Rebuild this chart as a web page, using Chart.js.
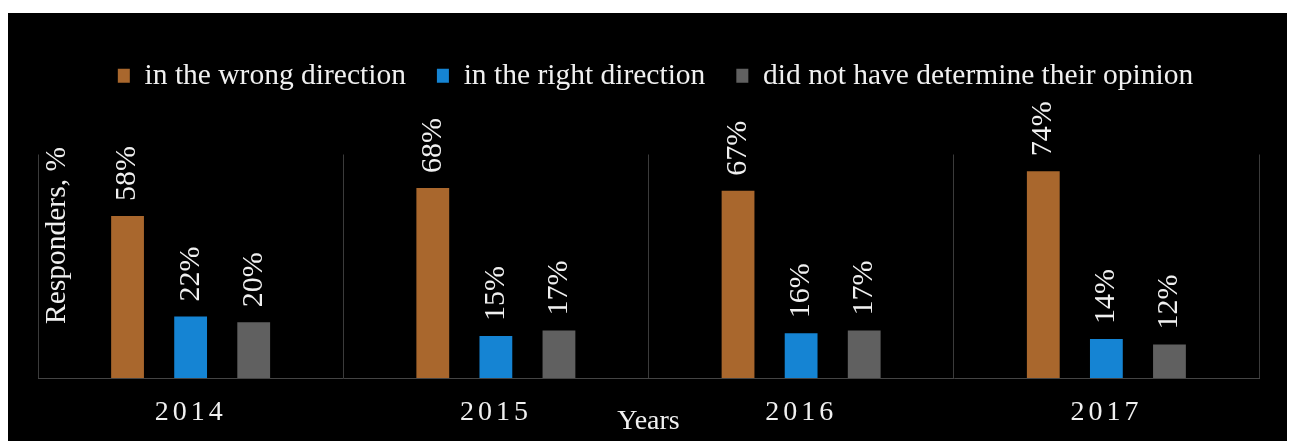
<!DOCTYPE html>
<html>
<head>
<meta charset="utf-8">
<title>Responders by year</title>
<script src="https://cdn.jsdelivr.net/npm/chart.js@4/dist/chart.umd.min.js"></script>
<style>
  html, body { margin: 0; padding: 0; background: #ffffff; }
  #panel { position: absolute; left: 8px; top: 13px; width: 1279px; height: 428px; background: #000000; }
</style>
</head>
<body>
<div id="panel"><canvas id="chart"></canvas></div>
<script>
// Survey answers per year, in percent of responders
const years = ['2014', '2015', '2016', '2017'];
const wrongDirection = [58, 68, 67, 74];
const rightDirection = [22, 15, 16, 14];
const undecided = [20, 17, 17, 12];
const seriesNames = ['in the wrong direction', 'in the right direction', 'did not have determine their opinion'];
const seriesColors = ['#a9672d', '#1584d3', '#606060'];
const yAxisTitle = 'Responders, %';
const xAxisTitle = 'Years';

const serif = "'Liberation Serif', 'Times New Roman', serif";
const textColor = '#f0f0f0';
Chart.defaults.font.family = serif;
Chart.defaults.color = textColor;

// Adds empty space between the legend row and the plot area,
// and nudges the legend row a little to the right
const legendGap = {
  id: 'legendGap',
  beforeLayout(chart) {
    const lg = chart.legend;
    if (lg && !lg.__gapPatched) {
      const fit = lg.fit.bind(lg);
      lg.fit = function () { fit(); this.height += 54; };
      const draw = lg.draw.bind(lg);
      lg.draw = function () {
        const ctx = this.ctx;
        ctx.save();
        ctx.translate(7, 0);
        draw();
        ctx.restore();
      };
      lg.__gapPatched = true;
    }
  }
};

// Spaced-out year labels on the category axis
const spacedTicks = {
  id: 'spacedTicks',
  beforeDraw(chart) {
    const s = chart.scales.x;
    if (s && !s.__spaced) {
      const draw = s.drawLabels.bind(s);
      s.drawLabels = function (area) {
        const ctx = this.ctx;
        ctx.save();
        ctx.letterSpacing = '4px';
        draw(area);
        ctx.restore();
      };
      s.__spaced = true;
    }
  }
};

// Rotated percentage labels above each bar
const barValueLabels = {
  id: 'barValueLabels',
  afterDatasetsDraw(chart) {
    const ctx = chart.ctx;
    chart.data.datasets.forEach((ds, i) => {
      const meta = chart.getDatasetMeta(i);
      meta.data.forEach((bar, j) => {
        ctx.save();
        ctx.translate(bar.x, bar.y - 15);
        ctx.rotate(-Math.PI / 2);
        ctx.font = '30px ' + serif;
        ctx.fillStyle = textColor;
        ctx.textAlign = 'left';
        ctx.textBaseline = 'middle';
        ctx.fillText(ds.data[j] + '%', 0, 0);
        ctx.restore();
      });
    });
  }
};

// Vertical axis title drawn inside the plot, next to its left edge
const insideYTitle = {
  id: 'insideYTitle',
  afterDraw(chart) {
    const { ctx, chartArea } = chart;
    ctx.save();
    ctx.translate(chartArea.left + 19, chartArea.top + 81);
    ctx.rotate(-Math.PI / 2);
    ctx.font = '29.5px ' + serif;
    ctx.fillStyle = textColor;
    ctx.textAlign = 'center';
    ctx.textBaseline = 'middle';
    ctx.fillText(yAxisTitle, 0, 0);
    ctx.restore();
  }
};

const seriesValues = [wrongDirection, rightDirection, undecided];

new Chart(document.getElementById('chart'), {
  type: 'bar',
  data: {
    labels: years,
    datasets: seriesValues.map((values, i) => ({
      label: seriesNames[i],
      data: values,
      backgroundColor: seriesColors[i],
      borderWidth: 0,
      categoryPercentage: 0.62,
      barPercentage: 0.52
    }))
  },
  options: {
    responsive: true,
    maintainAspectRatio: false,
    animation: false,
    layout: { padding: { left: 30, right: 28, top: 17, bottom: 0 } },
    plugins: {
      legend: {
        position: 'top',
        labels: {
          color: textColor,
          font: { size: 29.5, family: serif },
          boxWidth: 12,
          boxHeight: 14,
          padding: 31
        }
      },
      tooltip: { enabled: false }
    },
    scales: {
      x: {
        offset: true,
        grid: { offset: true, color: '#3b3b3b', lineWidth: 1, drawTicks: false },
        border: { color: '#444444', width: 1 },
        ticks: { color: textColor, font: { size: 28, family: serif }, padding: 18 },
        title: {
          display: true,
          text: xAxisTitle,
          color: textColor,
          font: { size: 28, family: serif },
          padding: { top: 0, bottom: 3 }
        },
        afterFit(scale) { scale.height = 63; }
      },
      y: { display: false, min: 0, max: 80 }
    }
  },
  plugins: [legendGap, spacedTicks, barValueLabels, insideYTitle]
});
</script>
</body>
</html>
